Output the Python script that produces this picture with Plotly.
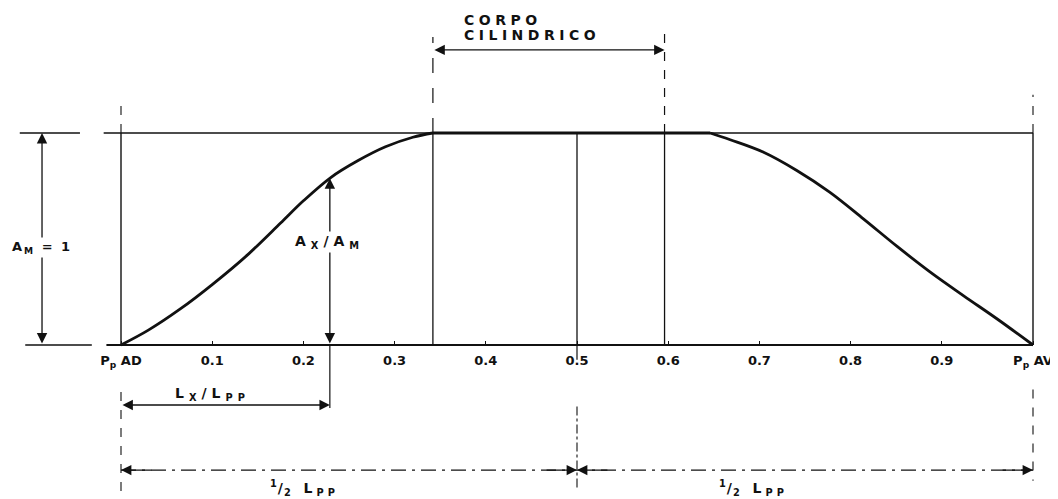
import numpy as np
import plotly.graph_objects as go

# ---- data ----
# sectional area curve A_X/A_M versus L_X/L_PP
entry_x = [0.0, 0.03, 0.065, 0.10, 0.14, 0.175, 0.20, 0.23, 0.26, 0.29, 0.32, 0.342]
entry_y = [0.0, 0.07, 0.17, 0.285, 0.43, 0.575, 0.68, 0.79, 0.87, 0.935, 0.98, 1.0]
run_x = [0.646, 0.668, 0.704, 0.741, 0.777, 0.814, 0.851, 0.887, 0.924, 0.960, 1.0]
run_y = [1.0, 0.968, 0.91, 0.823, 0.721, 0.595, 0.465, 0.345, 0.232, 0.125, 0.0]

tick_vals = [0.0, 0.1, 0.2, 0.3, 0.4, 0.5, 0.6, 0.7, 0.8, 0.9, 1.0]
tick_labels = ["P<sub>p</sub> AD", "0.1", "0.2", "0.3", "0.4", "0.5",
               "0.6", "0.7", "0.8", "0.9", "P<sub>p</sub> AV"]

corpo_start = 0.342   # start of parallel middle body
corpo_end = 0.596     # end of parallel middle body
midship = 0.5
lx_station = 0.229    # example station for A_X / L_X

# ---- axis ranges (whole figure is the plotting area) ----
W, H = 1058, 499
X_RANGE = [(8 - 121) / 912, (W + 8 - 121) / 912]
Y_RANGE = [(345 - (H + 8)) / 212, (345 - 8) / 212]
axis_pos = (0 - Y_RANGE[0]) / (Y_RANGE[1] - Y_RANGE[0])

FONT = "DejaVu Sans"
INK = "#111111"


def ls(text, px):
    return '<span style="letter-spacing:%spx">%s</span>' % (px, text)


fig = go.Figure()

curve_line = dict(color=INK, width=2.8, shape="spline", smoothing=1.0)
fig.add_trace(go.Scatter(x=entry_x, y=entry_y, mode="lines", line=curve_line,
                         hoverinfo="skip", showlegend=False))
fig.add_trace(go.Scatter(x=[entry_x[-1], run_x[0]], y=[entry_y[-1], run_y[0]],
                         mode="lines", line=dict(color=INK, width=2.8),
                         hoverinfo="skip", showlegend=False))
fig.add_trace(go.Scatter(x=run_x, y=run_y, mode="lines", line=curve_line,
                         hoverinfo="skip", showlegend=False))

shapes = []


def seg(x0, y0, x1, y1, w=1.3, dash="solid"):
    shapes.append(dict(type="line", xref="x", yref="y", x0=x0, y0=y0, x1=x1, y1=y1,
                       line=dict(color=INK, width=w, dash=dash), layer="below"))


# frame
seg(-0.019, 1, 1, 1, 1.4)
seg(-0.016, 0, 1, 0, 1.8)
seg(0, 0, 0, 1, 1.4)
seg(1, 0, 1, 1, 1.4)
for xv in (corpo_start, midship, corpo_end):
    seg(xv, 0, xv, 1, 1.3)
seg(midship, 0, midship, -0.07, 1.2)
# extension lines above
seg(0, 1, 0, 1.16, 1.1, "dash")
seg(1, 1, 1, 1.18, 1.1, "dash")
seg(corpo_start, 1, corpo_start, 1.453, 1.2, "longdash")
seg(corpo_end, 1, corpo_end, 1.486, 1.2, "dash")
# extension lines left
seg(-0.111, 1, -0.045, 1, 1.3)
seg(-0.105, 0, -0.032, 0, 1.3)
# extension lines below
seg(0, -0.222, 0, -0.70, 1.1, "dash")
seg(lx_station, 0, lx_station, -0.297, 1.2)
seg(midship, -0.29, midship, -0.684, 1.1, "dashdot")
seg(1, -0.21, 1, -0.64, 1.1, "dash")
# half-length dimension line
half_y = -0.59
seg(0, half_y, 1, half_y, 1.2, "longdashdot")

annotations = []


def arrow(x0, y0, x1, y1, both=True):
    annotations.append(dict(x=x1, y=y1, ax=x0, ay=y0, xref="x", yref="y",
                            axref="x", ayref="y", text="", showarrow=True,
                            arrowhead=2, arrowsize=1.6, arrowwidth=1.3,
                            arrowcolor=INK, standoff=0, startstandoff=0,
                            arrowside="end+start" if both else "end"))


def label(x, y, text, size=13, xanchor="center", bg=None):
    d = dict(x=x, y=y, xref="x", yref="y", text=text, showarrow=False,
             xanchor=xanchor, yanchor="middle",
             font=dict(family=FONT, size=size, color=INK, weight="bold"))
    if bg:
        d["bgcolor"] = bg
    annotations.append(d)


lx_value = float(np.interp(lx_station, entry_x, entry_y))

arrow(corpo_start, 1.392, corpo_end, 1.392)
arrow(-0.0866, 0, -0.0866, 1)
arrow(lx_station, 0, lx_station, lx_value)
arrow(0, -0.283, lx_station, -0.283)
# half-length arrow heads
arrow(0.035, half_y, 0, half_y, both=False)
arrow(midship - 0.035, half_y, midship, half_y, both=False)
arrow(midship + 0.035, half_y, midship, half_y, both=False)
arrow(0.965, half_y, 1, half_y, both=False)

half_text = ls("<sup>1</sup>/<sub>2</sub>\u00a0\u00a0", 1) + ls("L<sub>PP</sub>", 4)

label(0.374, 1.533, ls("CORPO", 4.5), 14, "left")
label(0.374, 1.462, ls("CILINDRICO", 4.5), 14, "left")
label(-0.0866, 0.462, ls("A<sub>M</sub> = 1", 2), 13, bg="white")
label(lx_station, 0.486, ls("A<sub>X</sub>/A<sub>M</sub>", 5), 14, bg="white")
label(0.100, -0.232, ls("L<sub>X</sub>/L<sub>PP</sub>", 5), 14)
label(0.2017, -0.675, half_text, 14)
label(0.694, -0.675, half_text, 14)

fig.update_layout(
    width=W, height=H,
    margin=dict(l=0, r=0, t=0, b=0),
    paper_bgcolor="white", plot_bgcolor="white",
    showlegend=False,
    shapes=shapes, annotations=annotations,
    xaxis=dict(range=X_RANGE, showgrid=False, zeroline=False, showline=False,
               anchor="free", position=axis_pos,
               tickmode="array", tickvals=tick_vals, ticktext=tick_labels,
               ticks="inside", ticklen=4, tickwidth=1.2, tickcolor=INK,
               ticklabelstandoff=6,
               tickfont=dict(family=FONT, size=13, color=INK, weight="bold"),
               fixedrange=True),
    yaxis=dict(range=Y_RANGE, visible=False, fixedrange=True),
)

fig.write_html("out.html")
